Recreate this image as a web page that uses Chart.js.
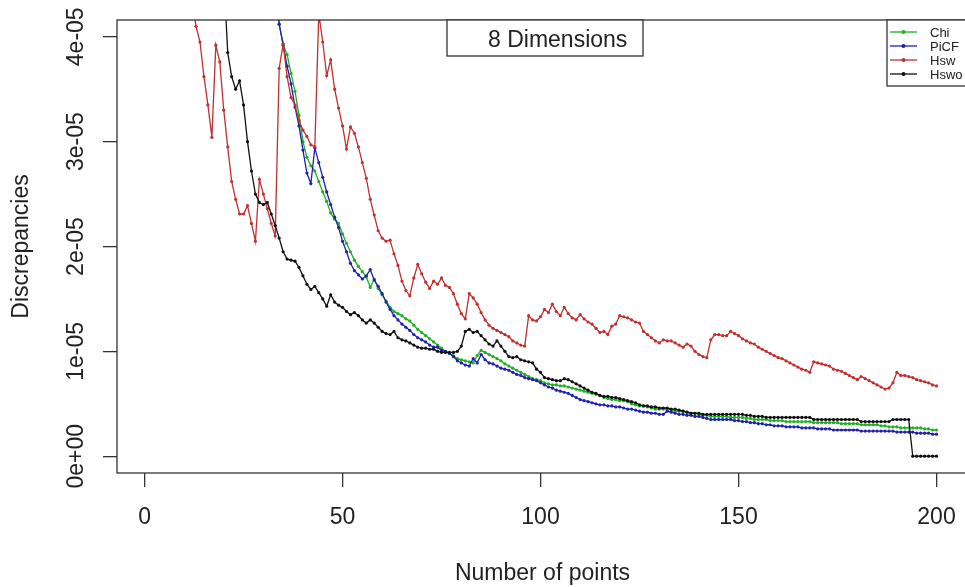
<!DOCTYPE html>
<html><head><meta charset="utf-8">
<script src="https://cdn.jsdelivr.net/npm/chart.js@4.4.1/dist/chart.umd.min.js"></script>
<style>html,body{margin:0;padding:0;overflow:hidden;background:#fff}#wrap{width:972px;height:587px}</style>
</head><body><div id="wrap"><canvas id="c" width="972" height="587"></canvas></div>
<script>
const points = [
1,2,3,4,5,6,7,8,9,10,11,12,13,14,15,16,17,18,19,20,
21,22,23,24,25,26,27,28,29,30,31,32,33,34,35,36,37,38,39,40,
41,42,43,44,45,46,47,48,49,50,51,52,53,54,55,56,57,58,59,60,
61,62,63,64,65,66,67,68,69,70,71,72,73,74,75,76,77,78,79,80,
81,82,83,84,85,86,87,88,89,90,91,92,93,94,95,96,97,98,99,100,
101,102,103,104,105,106,107,108,109,110,111,112,113,114,115,116,117,118,119,120,
121,122,123,124,125,126,127,128,129,130,131,132,133,134,135,136,137,138,139,140,
141,142,143,144,145,146,147,148,149,150,151,152,153,154,155,156,157,158,159,160,
161,162,163,164,165,166,167,168,169,170,171,172,173,174,175,176,177,178,179,180,
181,182,183,184,185,186,187,188,189,190,191,192,193,194,195,196,197,198,199,200];

const chi = [
15.8e-5,14.6e-5,13.6e-5,12.8e-5,12.0e-5,11.4e-5,10.8e-5,10.2e-5,9.7e-5,9.3e-5,
8.9e-5,8.5e-5,8.2e-5,7.9e-5,7.6e-5,7.3e-5,7.05e-5,6.8e-5,6.6e-5,6.4e-5,
6.2e-5,6.0e-5,5.85e-5,5.7e-5,5.55e-5,5.4e-5,5.3e-5,5.2e-5,5.1e-5,5.0e-5,
4.9e-5,4.8e-5,4.7e-5,4.12e-5,3.93e-5,3.83e-5,3.65e-5,3.48e-5,3.25e-5,3.00e-5,
2.85e-5,2.77e-5,2.72e-5,2.62e-5,2.52e-5,2.43e-5,2.32e-5,2.26e-5,2.22e-5,2.12e-5,
2.03e-5,1.95e-5,1.87e-5,1.81e-5,1.76e-5,1.71e-5,1.61e-5,1.69e-5,1.60e-5,1.54e-5,
1.48e-5,1.42e-5,1.38e-5,1.36e-5,1.34e-5,1.31e-5,1.29e-5,1.25e-5,1.21e-5,1.18e-5,
1.15e-5,1.12e-5,1.09e-5,1.06e-5,1.03e-5,1.00e-5,0.98e-5,0.96e-5,0.93e-5,0.92e-5,
0.91e-5,0.90e-5,0.89e-5,0.96e-5,1.01e-5,0.99e-5,0.97e-5,0.95e-5,0.93e-5,0.91e-5,
0.88e-5,0.86e-5,0.84e-5,0.82e-5,0.80e-5,0.78e-5,0.76e-5,0.74e-5,0.73e-5,0.72e-5,
0.70e-5,0.69e-5,0.68e-5,0.68e-5,0.67e-5,0.67e-5,0.66e-5,0.65e-5,0.64e-5,0.63e-5,
0.62e-5,0.61e-5,0.60e-5,0.59e-5,0.58e-5,0.56e-5,0.55e-5,0.54e-5,0.54e-5,0.53e-5,
0.53e-5,0.52e-5,0.50e-5,0.49e-5,0.48e-5,0.48e-5,0.47e-5,0.46e-5,0.45e-5,0.45e-5,
0.45e-5,0.45e-5,0.44e-5,0.43e-5,0.43e-5,0.43e-5,0.42e-5,0.41e-5,0.41e-5,0.40e-5,
0.39e-5,0.39e-5,0.38e-5,0.38e-5,0.38e-5,0.38e-5,0.38e-5,0.37e-5,0.37e-5,0.37e-5,
0.37e-5,0.36e-5,0.36e-5,0.35e-5,0.35e-5,0.35e-5,0.35e-5,0.34e-5,0.34e-5,0.34e-5,
0.34e-5,0.33e-5,0.33e-5,0.33e-5,0.33e-5,0.33e-5,0.33e-5,0.33e-5,0.32e-5,0.32e-5,
0.32e-5,0.32e-5,0.32e-5,0.32e-5,0.32e-5,0.31e-5,0.31e-5,0.31e-5,0.31e-5,0.31e-5,
0.30e-5,0.30e-5,0.30e-5,0.30e-5,0.30e-5,0.29e-5,0.29e-5,0.28e-5,0.28e-5,0.28e-5,
0.27e-5,0.27e-5,0.27e-5,0.27e-5,0.27e-5,0.27e-5,0.26e-5,0.26e-5,0.25e-5,0.25e-5];

const picf = [
15.2e-5,14.1e-5,13.2e-5,12.4e-5,11.7e-5,11.1e-5,10.5e-5,10.0e-5,9.5e-5,9.1e-5,
8.7e-5,8.3e-5,8.0e-5,7.7e-5,7.4e-5,7.1e-5,6.85e-5,6.6e-5,6.4e-5,6.2e-5,
6.0e-5,5.8e-5,5.65e-5,5.5e-5,5.35e-5,5.2e-5,5.1e-5,5.0e-5,4.9e-5,4.8e-5,
4.72e-5,4.64e-5,4.55e-5,4.12e-5,3.92e-5,3.72e-5,3.55e-5,3.33e-5,3.15e-5,2.92e-5,
2.70e-5,2.60e-5,2.94e-5,2.80e-5,2.66e-5,2.52e-5,2.40e-5,2.28e-5,2.18e-5,2.05e-5,
1.95e-5,1.84e-5,1.77e-5,1.73e-5,1.69e-5,1.72e-5,1.78e-5,1.68e-5,1.62e-5,1.55e-5,
1.47e-5,1.40e-5,1.34e-5,1.30e-5,1.26e-5,1.23e-5,1.20e-5,1.16e-5,1.13e-5,1.11e-5,
1.09e-5,1.06e-5,1.04e-5,1.04e-5,1.01e-5,1.00e-5,0.98e-5,0.95e-5,0.91e-5,0.89e-5,
0.87e-5,0.86e-5,0.93e-5,0.89e-5,0.97e-5,0.92e-5,0.89e-5,0.88e-5,0.86e-5,0.84e-5,
0.83e-5,0.82e-5,0.80e-5,0.78e-5,0.77e-5,0.75e-5,0.74e-5,0.73e-5,0.72e-5,0.70e-5,
0.68e-5,0.66e-5,0.65e-5,0.63e-5,0.62e-5,0.61e-5,0.60e-5,0.58e-5,0.56e-5,0.54e-5,
0.53e-5,0.52e-5,0.51e-5,0.50e-5,0.49e-5,0.49e-5,0.48e-5,0.48e-5,0.47e-5,0.47e-5,
0.46e-5,0.45e-5,0.45e-5,0.44e-5,0.43e-5,0.42e-5,0.42e-5,0.41e-5,0.41e-5,0.40e-5,
0.40e-5,0.43e-5,0.42e-5,0.41e-5,0.40e-5,0.40e-5,0.39e-5,0.39e-5,0.38e-5,0.38e-5,
0.37e-5,0.36e-5,0.35e-5,0.35e-5,0.35e-5,0.35e-5,0.35e-5,0.35e-5,0.34e-5,0.34e-5,
0.33e-5,0.33e-5,0.32e-5,0.32e-5,0.31e-5,0.31e-5,0.30e-5,0.30e-5,0.29e-5,0.29e-5,
0.29e-5,0.28e-5,0.28e-5,0.28e-5,0.28e-5,0.27e-5,0.27e-5,0.27e-5,0.27e-5,0.26e-5,
0.26e-5,0.26e-5,0.26e-5,0.25e-5,0.25e-5,0.25e-5,0.25e-5,0.25e-5,0.25e-5,0.25e-5,
0.24e-5,0.24e-5,0.24e-5,0.24e-5,0.24e-5,0.24e-5,0.24e-5,0.24e-5,0.24e-5,0.23e-5,
0.23e-5,0.23e-5,0.23e-5,0.23e-5,0.22e-5,0.22e-5,0.22e-5,0.22e-5,0.21e-5,0.21e-5];

const hsw = [
9.8e-5,9.1e-5,8.5e-5,7.9e-5,7.3e-5,6.8e-5,6.3e-5,5.9e-5,5.5e-5,5.1e-5,
4.7e-5,4.35e-5,4.10e-5,3.95e-5,3.62e-5,3.35e-5,3.04e-5,3.92e-5,3.76e-5,3.30e-5,
2.95e-5,2.62e-5,2.45e-5,2.31e-5,2.31e-5,2.39e-5,2.22e-5,2.05e-5,2.64e-5,2.50e-5,
2.36e-5,2.22e-5,2.10e-5,3.70e-5,3.93e-5,3.62e-5,3.42e-5,3.35e-5,3.20e-5,3.11e-5,
3.05e-5,2.97e-5,2.95e-5,4.22e-5,3.95e-5,3.63e-5,3.78e-5,3.50e-5,3.32e-5,3.15e-5,
2.93e-5,3.14e-5,3.08e-5,2.95e-5,2.80e-5,2.65e-5,2.45e-5,2.30e-5,2.15e-5,2.08e-5,
2.05e-5,2.06e-5,1.93e-5,1.82e-5,1.67e-5,1.58e-5,1.53e-5,1.70e-5,1.83e-5,1.74e-5,
1.66e-5,1.60e-5,1.67e-5,1.64e-5,1.70e-5,1.63e-5,1.61e-5,1.55e-5,1.45e-5,1.36e-5,
1.31e-5,1.55e-5,1.51e-5,1.45e-5,1.37e-5,1.30e-5,1.25e-5,1.22e-5,1.20e-5,1.18e-5,
1.16e-5,1.14e-5,1.10e-5,1.08e-5,1.06e-5,1.05e-5,1.34e-5,1.30e-5,1.29e-5,1.33e-5,
1.40e-5,1.37e-5,1.45e-5,1.38e-5,1.34e-5,1.42e-5,1.36e-5,1.32e-5,1.30e-5,1.35e-5,
1.31e-5,1.28e-5,1.26e-5,1.22e-5,1.18e-5,1.19e-5,1.16e-5,1.24e-5,1.26e-5,1.34e-5,
1.33e-5,1.32e-5,1.30e-5,1.28e-5,1.27e-5,1.19e-5,1.16e-5,1.13e-5,1.10e-5,1.08e-5,
1.11e-5,1.10e-5,1.10e-5,1.08e-5,1.06e-5,1.04e-5,1.07e-5,1.05e-5,1.00e-5,0.97e-5,
0.95e-5,0.94e-5,1.11e-5,1.16e-5,1.16e-5,1.15e-5,1.15e-5,1.19e-5,1.17e-5,1.15e-5,
1.12e-5,1.10e-5,1.08e-5,1.07e-5,1.04e-5,1.02e-5,1.00e-5,0.98e-5,0.96e-5,0.94e-5,
0.93e-5,0.91e-5,0.89e-5,0.87e-5,0.85e-5,0.83e-5,0.82e-5,0.80e-5,0.90e-5,0.89e-5,
0.88e-5,0.87e-5,0.86e-5,0.83e-5,0.82e-5,0.81e-5,0.79e-5,0.77e-5,0.75e-5,0.73e-5,
0.76e-5,0.74e-5,0.72e-5,0.70e-5,0.68e-5,0.66e-5,0.64e-5,0.65e-5,0.70e-5,0.80e-5,
0.77e-5,0.77e-5,0.76e-5,0.75e-5,0.73e-5,0.72e-5,0.71e-5,0.70e-5,0.68e-5,0.67e-5];

const hswo = [
11.5e-5,10.6e-5,9.9e-5,9.2e-5,8.6e-5,8.0e-5,7.5e-5,7.1e-5,6.7e-5,6.4e-5,
6.1e-5,5.8e-5,5.6e-5,5.4e-5,5.2e-5,5.05e-5,4.95e-5,4.85e-5,4.75e-5,4.6e-5,
3.85e-5,3.62e-5,3.50e-5,3.58e-5,3.35e-5,3.00e-5,2.72e-5,2.50e-5,2.42e-5,2.40e-5,
2.42e-5,2.31e-5,2.20e-5,2.08e-5,1.95e-5,1.88e-5,1.87e-5,1.86e-5,1.80e-5,1.72e-5,
1.64e-5,1.59e-5,1.62e-5,1.56e-5,1.50e-5,1.43e-5,1.54e-5,1.47e-5,1.44e-5,1.42e-5,
1.38e-5,1.35e-5,1.37e-5,1.34e-5,1.30e-5,1.27e-5,1.30e-5,1.27e-5,1.23e-5,1.19e-5,
1.17e-5,1.16e-5,1.19e-5,1.13e-5,1.11e-5,1.10e-5,1.08e-5,1.06e-5,1.04e-5,1.03e-5,
1.03e-5,1.02e-5,1.02e-5,1.00e-5,0.99e-5,0.99e-5,0.99e-5,0.99e-5,1.00e-5,1.05e-5,
1.19e-5,1.21e-5,1.18e-5,1.19e-5,1.15e-5,1.11e-5,1.07e-5,1.05e-5,1.10e-5,1.05e-5,
1.00e-5,0.95e-5,0.94e-5,0.95e-5,0.92e-5,0.91e-5,0.90e-5,0.89e-5,0.83e-5,0.80e-5,
0.75e-5,0.74e-5,0.73e-5,0.72e-5,0.72e-5,0.74e-5,0.73e-5,0.71e-5,0.69e-5,0.67e-5,
0.65e-5,0.63e-5,0.61e-5,0.60e-5,0.58e-5,0.57e-5,0.57e-5,0.56e-5,0.56e-5,0.55e-5,
0.54e-5,0.53e-5,0.52e-5,0.51e-5,0.49e-5,0.48e-5,0.48e-5,0.47e-5,0.47e-5,0.46e-5,
0.46e-5,0.46e-5,0.45e-5,0.45e-5,0.44e-5,0.43e-5,0.42e-5,0.41e-5,0.41e-5,0.41e-5,
0.40e-5,0.40e-5,0.40e-5,0.40e-5,0.40e-5,0.40e-5,0.40e-5,0.40e-5,0.40e-5,0.40e-5,
0.40e-5,0.39e-5,0.39e-5,0.38e-5,0.38e-5,0.38e-5,0.37e-5,0.37e-5,0.37e-5,0.37e-5,
0.37e-5,0.37e-5,0.37e-5,0.37e-5,0.37e-5,0.37e-5,0.37e-5,0.37e-5,0.35e-5,0.35e-5,
0.35e-5,0.35e-5,0.35e-5,0.35e-5,0.35e-5,0.35e-5,0.35e-5,0.35e-5,0.35e-5,0.35e-5,
0.33e-5,0.33e-5,0.33e-5,0.33e-5,0.33e-5,0.33e-5,0.33e-5,0.33e-5,0.35e-5,0.35e-5,
0.35e-5,0.35e-5,0.35e-5,0,0,0,0,0,0,0];

const seriesNames = ["Chi", "PiCF", "Hsw", "Hswo"];
const seriesColors = ["#1fb01f", "#1f1fb0", "#c0302f", "#111111"];
const xTickValues = [0, 50, 100, 150, 200];
const yTickValues = [0, 1e-5, 2e-5, 3e-5, 4e-5];
const yTickLabels = ["0e+00", "1e-05", "2e-05", "3e-05", "4e-05"];
const chartTitle = "8 Dimensions";
const xTitle = "Number of points";
const yTitle = "Discrepancies";

const FONT = "'Liberation Sans', Arial, Helvetica, sans-serif";
const INK = "#222";
const AXIS = "#333";

const seriesValues = [chi, picf, hsw, hswo];
const drawOrder = [4, 3, 2, 1];

const datasets = seriesNames.map((name, k) => ({
  label: name,
  data: points.map((x, i) => ({ x: x, y: seriesValues[k][i] })),
  borderColor: seriesColors[k],
  backgroundColor: seriesColors[k],
  pointBackgroundColor: seriesColors[k],
  pointBorderWidth: 0,
  pointRadius: 1.6,
  borderWidth: 1.3,
  tension: 0,
  fill: false,
  order: drawOrder[k]
}));

const decorPlugin = {
  id: 'decor',
  afterDraw(chart) {
    const ctx = chart.ctx;
    const a = chart.chartArea;
    ctx.save();
    ctx.strokeStyle = AXIS;
    ctx.lineWidth = 1.3;
    ctx.strokeRect(a.left, a.top, a.right - a.left, a.bottom - a.top);

    const tx0 = 447, tx1 = 643, ty1 = 56;
    ctx.fillStyle = "#fff";
    ctx.fillRect(tx0, a.top, tx1 - tx0, ty1 - a.top);
    ctx.strokeRect(tx0, a.top, tx1 - tx0, ty1 - a.top);
    ctx.fillStyle = INK;
    ctx.font = "23px " + FONT;
    ctx.textAlign = "left";
    ctx.textBaseline = "middle";
    ctx.fillText(chartTitle, 488, 41);

    const lx0 = 887, ly1 = 86;
    ctx.fillStyle = "#fff";
    ctx.fillRect(lx0, a.top, a.right - lx0, ly1 - a.top);
    ctx.strokeRect(lx0, a.top, a.right - lx0, ly1 - a.top);
    ctx.font = "13px " + FONT;
    const rows = [32, 46, 60, 74];
    chart.data.datasets.forEach((ds, i) => {
      const y = rows[i];
      ctx.strokeStyle = ds.borderColor;
      ctx.lineWidth = 1.3;
      ctx.beginPath(); ctx.moveTo(890, y); ctx.lineTo(917, y); ctx.stroke();
      ctx.fillStyle = ds.borderColor;
      ctx.beginPath(); ctx.arc(903.5, y, 2, 0, Math.PI * 2); ctx.fill();
      ctx.fillStyle = INK;
      ctx.fillText(ds.label, 930, y + 1);
    });
    ctx.restore();
  }
};

new Chart(document.getElementById('c'), {
  type: 'line',
  data: { datasets: datasets },
  options: {
    responsive: false,
    devicePixelRatio: 1,
    animation: false,
    layout: { padding: { top: 20, left: 0, right: 0, bottom: 0 } },
    plugins: { legend: { display: false }, tooltip: { enabled: false } },
    scales: {
      x: {
        type: 'linear', position: 'bottom', min: -6.96, max: 207.96,
        afterBuildTicks: s => { s.ticks = xTickValues.map(v => ({ value: v })); },
        afterFit: s => { s.height = 114; },
        grid: { drawOnChartArea: false, drawTicks: true, tickLength: 14, color: AXIS, lineWidth: 1.3 },
        border: { display: false },
        ticks: { autoSkip: false, maxRotation: 0, minRotation: 0, padding: 0, color: INK,
                 font: { family: FONT, size: 23, lineHeight: 2.65 },
                 callback: v => String(v) },
        title: { display: true, text: xTitle, color: INK,
                 font: { family: FONT, size: 23, lineHeight: 1 }, padding: { top: 0, bottom: 2 } }
      },
      y: {
        type: 'linear', position: 'left', min: -0.16e-5, max: 4.16e-5,
        afterBuildTicks: s => { s.ticks = yTickValues.map(v => ({ value: v })); },
        afterFit: s => { s.width = 117; },
        grid: { drawOnChartArea: false, drawTicks: true, tickLength: 14, color: AXIS, lineWidth: 1.3 },
        border: { display: false },
        ticks: { autoSkip: false, minRotation: 90, maxRotation: 90, crossAlign: 'center', padding: -6, color: INK,
                 font: { family: FONT, size: 23 },
                 callback: (v, i) => yTickLabels[i] },
        title: { display: true, text: yTitle, color: INK,
                 font: { family: FONT, size: 23, lineHeight: 1 }, padding: { top: 10, bottom: 0 } }
      }
    }
  },
  plugins: [decorPlugin]
});
</script>
</body></html>
